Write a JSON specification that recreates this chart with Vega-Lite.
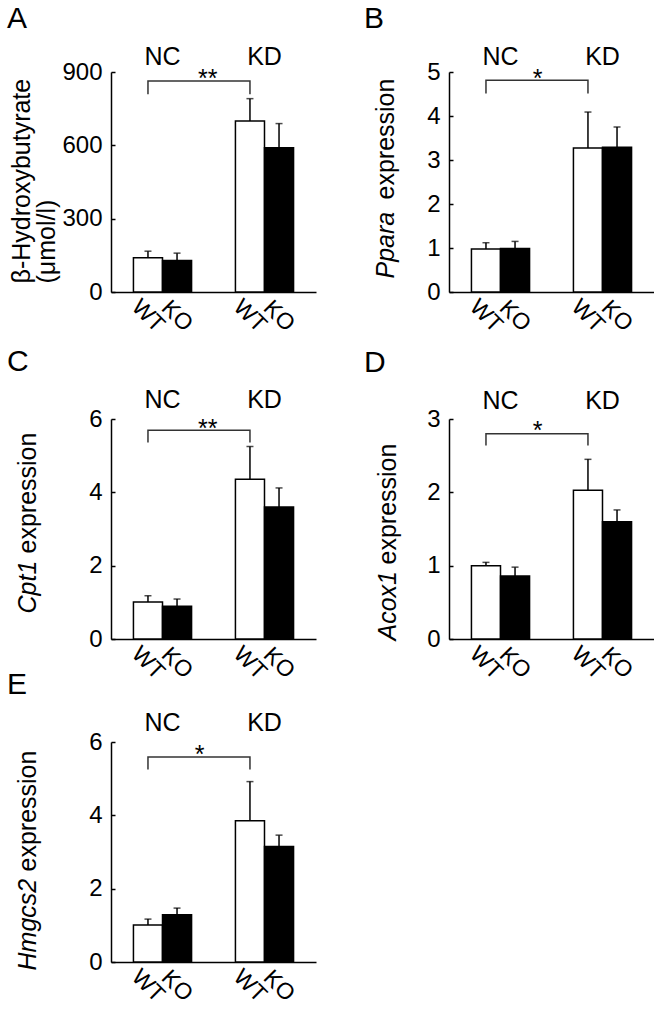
{
  "$schema": "https://vega.github.io/schema/vega-lite/v6.json",
  "padding": {"left": 7, "top": 3, "right": 0, "bottom": 0},
  "background": "white",
  "spacing": -16,
  "vconcat": [
    {
      "columns": 2,
      "spacing": {"row": 8, "column": 48},
      "concat": [
        {
          "title": {"text": "A", "dx": -104},
          "width": 205, "height": 220,
          "resolve": {"axis": {"y": "independent"}},
          "data": {"values": [
            {"g": "NC", "geno": "WT", "mean": 140, "top": 167},
            {"g": "NC", "geno": "KO", "mean": 129, "top": 159},
            {"g": "KD", "geno": "WT", "mean": 700, "top": 791},
            {"g": "KD", "geno": "KO", "mean": 590, "top": 689}
          ]},
          "layer": [
            {"mark": {"type": "rule", "color": "black", "strokeWidth": 1.5},
             "encoding": {
               "x": {"field": "g", "type": "nominal", "scale": {"domain": ["NC", "KD"], "paddingInner": 0.43, "paddingOuter": 0.22}, "axis": {"labels": false, "ticks": false, "title": null}},
               "xOffset": {"field": "geno", "type": "nominal", "scale": {"domain": ["WT", "KO"], "paddingInner": 0, "paddingOuter": 0}},
               "y": {"field": "mean", "type": "quantitative", "scale": {"domain": [0, 900], "nice": false},
                     "axis": {"orient": "left", "values": [0, 300, 600, 900], "title": ["β-Hydroxybutyrate", "(μmol/l)"], "titleX": -77, "titleY": 211}},
               "y2": {"field": "top"}}},
            {"mark": {"type": "tick", "orient": "horizontal", "color": "black", "size": 7, "thickness": 1.5},
             "encoding": {
               "x": {"field": "g", "type": "nominal"},
               "xOffset": {"field": "geno", "type": "nominal"},
               "y": {"field": "top", "type": "quantitative", "axis": null}}},
            {"mark": {"type": "bar", "stroke": "black", "strokeWidth": 1.5},
             "encoding": {
               "x": {"field": "g", "type": "nominal"},
               "xOffset": {"field": "geno", "type": "nominal"},
               "y": {"field": "mean", "type": "quantitative", "axis": null},
               "fill": {"field": "geno", "type": "nominal", "scale": {"domain": ["WT", "KO"], "range": ["white", "black"]}, "legend": null}}},
            {"mark": {"type": "text", "angle": 45, "align": "center", "baseline": "middle", "fontSize": 23},
             "encoding": {
               "x": {"field": "g", "type": "nominal"},
               "xOffset": {"field": "geno", "type": "nominal"},
               "y": {"datum": -98, "type": "quantitative", "axis": null},
               "text": {"field": "geno"}}},
            {"transform": [{"filter": "datum.geno === 'WT'"}],
             "mark": {"type": "text", "baseline": "alphabetic", "fontSize": 25},
             "encoding": {
               "x": {"field": "g", "type": "nominal"},
               "y": {"datum": 929, "type": "quantitative", "axis": null},
               "text": {"field": "g"}}},
            {"data": {"values": [
               {"g": "NC", "geno": "WT", "v": 809, "o": 1},
               {"g": "NC", "geno": "WT", "v": 863, "o": 2},
               {"g": "KD", "geno": "WT", "v": 863, "o": 3},
               {"g": "KD", "geno": "WT", "v": 809, "o": 4}]},
             "mark": {"type": "line", "color": "#333333", "strokeWidth": 1.5},
             "encoding": {
               "x": {"field": "g", "type": "nominal"},
               "xOffset": {"field": "geno", "type": "nominal"},
               "y": {"field": "v", "type": "quantitative", "axis": null},
               "order": {"field": "o", "type": "quantitative"}}},
            {"data": {"values": [{"s": "**", "v": 840}]},
             "mark": {"type": "text", "baseline": "alphabetic", "fontSize": 25},
             "encoding": {
               "x": {"datum": "NC", "type": "nominal", "bandPosition": 1.28},
               "y": {"field": "v", "type": "quantitative", "axis": null},
               "text": {"field": "s"}}}
          ]
        },
        {
          "title": {"text": "B", "dx": -85},
          "width": 205, "height": 220,
          "resolve": {"axis": {"y": "independent"}},
          "data": {"values": [
            {"g": "NC", "geno": "WT", "mean": 0.98, "top": 1.12},
            {"g": "NC", "geno": "KO", "mean": 0.99, "top": 1.15},
            {"g": "KD", "geno": "WT", "mean": 3.27, "top": 4.09},
            {"g": "KD", "geno": "KO", "mean": 3.29, "top": 3.75}
          ]},
          "layer": [
            {"mark": {"type": "rule", "color": "black", "strokeWidth": 1.5},
             "encoding": {
               "x": {"field": "g", "type": "nominal", "scale": {"domain": ["NC", "KD"], "paddingInner": 0.43, "paddingOuter": 0.22}, "axis": {"labels": false, "ticks": false, "title": null}},
               "xOffset": {"field": "geno", "type": "nominal", "scale": {"domain": ["WT", "KO"], "paddingInner": 0, "paddingOuter": 0}},
               "y": {"field": "mean", "type": "quantitative", "scale": {"domain": [0, 5], "nice": false},
                     "axis": {"orient": "left", "values": [0, 1, 2, 3, 4, 5], "title": "expression", "titleX": -51, "titleY": 127}},
               "y2": {"field": "top"}}},
            {"mark": {"type": "tick", "orient": "horizontal", "color": "black", "size": 7, "thickness": 1.5},
             "encoding": {
               "x": {"field": "g", "type": "nominal"},
               "xOffset": {"field": "geno", "type": "nominal"},
               "y": {"field": "top", "type": "quantitative",
                     "axis": {"orient": "left", "domain": false, "ticks": false, "labels": false, "title": "Ppara", "titleFontStyle": "italic", "titleX": -51, "titleY": 206}}}},
            {"mark": {"type": "bar", "stroke": "black", "strokeWidth": 1.5},
             "encoding": {
               "x": {"field": "g", "type": "nominal"},
               "xOffset": {"field": "geno", "type": "nominal"},
               "y": {"field": "mean", "type": "quantitative", "axis": null},
               "fill": {"field": "geno", "type": "nominal", "scale": {"domain": ["WT", "KO"], "range": ["white", "black"]}, "legend": null}}},
            {"mark": {"type": "text", "angle": 45, "align": "center", "baseline": "middle", "fontSize": 23},
             "encoding": {
               "x": {"field": "g", "type": "nominal"},
               "xOffset": {"field": "geno", "type": "nominal"},
               "y": {"datum": -0.545, "type": "quantitative", "axis": null},
               "text": {"field": "geno"}}},
            {"transform": [{"filter": "datum.geno === 'WT'"}],
             "mark": {"type": "text", "baseline": "alphabetic", "fontSize": 25},
             "encoding": {
               "x": {"field": "g", "type": "nominal"},
               "y": {"datum": 5.16, "type": "quantitative", "axis": null},
               "text": {"field": "g"}}},
            {"data": {"values": [
               {"g": "NC", "geno": "WT", "v": 4.51, "o": 1},
               {"g": "NC", "geno": "WT", "v": 4.81, "o": 2},
               {"g": "KD", "geno": "WT", "v": 4.81, "o": 3},
               {"g": "KD", "geno": "WT", "v": 4.51, "o": 4}]},
             "mark": {"type": "line", "color": "#333333", "strokeWidth": 1.5},
             "encoding": {
               "x": {"field": "g", "type": "nominal"},
               "xOffset": {"field": "geno", "type": "nominal"},
               "y": {"field": "v", "type": "quantitative", "axis": null},
               "order": {"field": "o", "type": "quantitative"}}},
            {"data": {"values": [{"s": "*", "v": 4.67}]},
             "mark": {"type": "text", "baseline": "alphabetic", "fontSize": 25},
             "encoding": {
               "x": {"datum": "NC", "type": "nominal", "bandPosition": 1.14},
               "y": {"field": "v", "type": "quantitative", "axis": null},
               "text": {"field": "s"}}}
          ]
        },
        {
          "title": {"text": "C", "dx": -104},
          "width": 205, "height": 220,
          "resolve": {"axis": {"y": "independent"}},
          "data": {"values": [
            {"g": "NC", "geno": "WT", "mean": 1.01, "top": 1.18},
            {"g": "NC", "geno": "KO", "mean": 0.89, "top": 1.09},
            {"g": "KD", "geno": "WT", "mean": 4.36, "top": 5.25},
            {"g": "KD", "geno": "KO", "mean": 3.6, "top": 4.12}
          ]},
          "layer": [
            {"mark": {"type": "rule", "color": "black", "strokeWidth": 1.5},
             "encoding": {
               "x": {"field": "g", "type": "nominal", "scale": {"domain": ["NC", "KD"], "paddingInner": 0.43, "paddingOuter": 0.22}, "axis": {"labels": false, "ticks": false, "title": null}},
               "xOffset": {"field": "geno", "type": "nominal", "scale": {"domain": ["WT", "KO"], "paddingInner": 0, "paddingOuter": 0}},
               "y": {"field": "mean", "type": "quantitative", "scale": {"domain": [0, 6], "nice": false},
                     "axis": {"orient": "left", "values": [0, 2, 4, 6], "title": "expression", "titleX": -71, "titleY": 134}},
               "y2": {"field": "top"}}},
            {"mark": {"type": "tick", "orient": "horizontal", "color": "black", "size": 7, "thickness": 1.5},
             "encoding": {
               "x": {"field": "g", "type": "nominal"},
               "xOffset": {"field": "geno", "type": "nominal"},
               "y": {"field": "top", "type": "quantitative",
                     "axis": {"orient": "left", "domain": false, "ticks": false, "labels": false, "title": "Cpt1", "titleFontStyle": "italic", "titleX": -71, "titleY": 194}}}},
            {"mark": {"type": "bar", "stroke": "black", "strokeWidth": 1.5},
             "encoding": {
               "x": {"field": "g", "type": "nominal"},
               "xOffset": {"field": "geno", "type": "nominal"},
               "y": {"field": "mean", "type": "quantitative", "axis": null},
               "fill": {"field": "geno", "type": "nominal", "scale": {"domain": ["WT", "KO"], "range": ["white", "black"]}, "legend": null}}},
            {"mark": {"type": "text", "angle": 45, "align": "center", "baseline": "middle", "fontSize": 23},
             "encoding": {
               "x": {"field": "g", "type": "nominal"},
               "xOffset": {"field": "geno", "type": "nominal"},
               "y": {"datum": -0.655, "type": "quantitative", "axis": null},
               "text": {"field": "geno"}}},
            {"transform": [{"filter": "datum.geno === 'WT'"}],
             "mark": {"type": "text", "baseline": "alphabetic", "fontSize": 25},
             "encoding": {
               "x": {"field": "g", "type": "nominal"},
               "y": {"datum": 6.3, "type": "quantitative", "axis": null},
               "text": {"field": "g"}}},
            {"data": {"values": [
               {"g": "NC", "geno": "WT", "v": 5.36, "o": 1},
               {"g": "NC", "geno": "WT", "v": 5.69, "o": 2},
               {"g": "KD", "geno": "WT", "v": 5.69, "o": 3},
               {"g": "KD", "geno": "WT", "v": 5.36, "o": 4}]},
             "mark": {"type": "line", "color": "#333333", "strokeWidth": 1.5},
             "encoding": {
               "x": {"field": "g", "type": "nominal"},
               "xOffset": {"field": "geno", "type": "nominal"},
               "y": {"field": "v", "type": "quantitative", "axis": null},
               "order": {"field": "o", "type": "quantitative"}}},
            {"data": {"values": [{"s": "**", "v": 5.52}]},
             "mark": {"type": "text", "baseline": "alphabetic", "fontSize": 25},
             "encoding": {
               "x": {"datum": "NC", "type": "nominal", "bandPosition": 1.28},
               "y": {"field": "v", "type": "quantitative", "axis": null},
               "text": {"field": "s"}}}
          ]
        },
        {
          "title": {"text": "D", "dx": -85},
          "width": 205, "height": 220,
          "resolve": {"axis": {"y": "independent"}},
          "data": {"values": [
            {"g": "NC", "geno": "WT", "mean": 1.0, "top": 1.045},
            {"g": "NC", "geno": "KO", "mean": 0.86, "top": 0.98},
            {"g": "KD", "geno": "WT", "mean": 2.03, "top": 2.45},
            {"g": "KD", "geno": "KO", "mean": 1.6, "top": 1.76}
          ]},
          "layer": [
            {"mark": {"type": "rule", "color": "black", "strokeWidth": 1.5},
             "encoding": {
               "x": {"field": "g", "type": "nominal", "scale": {"domain": ["NC", "KD"], "paddingInner": 0.43, "paddingOuter": 0.22}, "axis": {"labels": false, "ticks": false, "title": null}},
               "xOffset": {"field": "geno", "type": "nominal", "scale": {"domain": ["WT", "KO"], "paddingInner": 0, "paddingOuter": 0}},
               "y": {"field": "mean", "type": "quantitative", "scale": {"domain": [0, 3], "nice": false},
                     "axis": {"orient": "left", "values": [0, 1, 2, 3], "title": "expression", "titleX": -49, "titleY": 145}},
               "y2": {"field": "top"}}},
            {"mark": {"type": "tick", "orient": "horizontal", "color": "black", "size": 7, "thickness": 1.5},
             "encoding": {
               "x": {"field": "g", "type": "nominal"},
               "xOffset": {"field": "geno", "type": "nominal"},
               "y": {"field": "top", "type": "quantitative",
                     "axis": {"orient": "left", "domain": false, "ticks": false, "labels": false, "title": "Acox1", "titleFontStyle": "italic", "titleX": -49, "titleY": 221}}}},
            {"mark": {"type": "bar", "stroke": "black", "strokeWidth": 1.5},
             "encoding": {
               "x": {"field": "g", "type": "nominal"},
               "xOffset": {"field": "geno", "type": "nominal"},
               "y": {"field": "mean", "type": "quantitative", "axis": null},
               "fill": {"field": "geno", "type": "nominal", "scale": {"domain": ["WT", "KO"], "range": ["white", "black"]}, "legend": null}}},
            {"mark": {"type": "text", "angle": 45, "align": "center", "baseline": "middle", "fontSize": 23},
             "encoding": {
               "x": {"field": "g", "type": "nominal"},
               "xOffset": {"field": "geno", "type": "nominal"},
               "y": {"datum": -0.327, "type": "quantitative", "axis": null},
               "text": {"field": "geno"}}},
            {"transform": [{"filter": "datum.geno === 'WT'"}],
             "mark": {"type": "text", "baseline": "alphabetic", "fontSize": 25},
             "encoding": {
               "x": {"field": "g", "type": "nominal"},
               "y": {"datum": 3.14, "type": "quantitative", "axis": null},
               "text": {"field": "g"}}},
            {"data": {"values": [
               {"g": "NC", "geno": "WT", "v": 2.64, "o": 1},
               {"g": "NC", "geno": "WT", "v": 2.8, "o": 2},
               {"g": "KD", "geno": "WT", "v": 2.8, "o": 3},
               {"g": "KD", "geno": "WT", "v": 2.64, "o": 4}]},
             "mark": {"type": "line", "color": "#333333", "strokeWidth": 1.5},
             "encoding": {
               "x": {"field": "g", "type": "nominal"},
               "xOffset": {"field": "geno", "type": "nominal"},
               "y": {"field": "v", "type": "quantitative", "axis": null},
               "order": {"field": "o", "type": "quantitative"}}},
            {"data": {"values": [{"s": "*", "v": 2.73}]},
             "mark": {"type": "text", "baseline": "alphabetic", "fontSize": 25},
             "encoding": {
               "x": {"datum": "NC", "type": "nominal", "bandPosition": 1.14},
               "y": {"field": "v", "type": "quantitative", "axis": null},
               "text": {"field": "s"}}}
          ]
        }
      ]
    },
    {
      "title": {"text": "E", "dx": -104},
      "width": 205, "height": 220,
      "resolve": {"axis": {"y": "independent"}},
      "data": {"values": [
        {"g": "NC", "geno": "WT", "mean": 1.01, "top": 1.17},
        {"g": "NC", "geno": "KO", "mean": 1.29, "top": 1.47},
        {"g": "KD", "geno": "WT", "mean": 3.85, "top": 4.92},
        {"g": "KD", "geno": "KO", "mean": 3.15, "top": 3.46}
      ]},
      "layer": [
        {"mark": {"type": "rule", "color": "black", "strokeWidth": 1.5},
         "encoding": {
           "x": {"field": "g", "type": "nominal", "scale": {"domain": ["NC", "KD"], "paddingInner": 0.43, "paddingOuter": 0.22}, "axis": {"labels": false, "ticks": false, "title": null}},
           "xOffset": {"field": "geno", "type": "nominal", "scale": {"domain": ["WT", "KO"], "paddingInner": 0, "paddingOuter": 0}},
           "y": {"field": "mean", "type": "quantitative", "scale": {"domain": [0, 6], "nice": false},
                 "axis": {"orient": "left", "values": [0, 2, 4, 6], "title": "expression", "titleX": -71, "titleY": 129}},
           "y2": {"field": "top"}}},
        {"mark": {"type": "tick", "orient": "horizontal", "color": "black", "size": 7, "thickness": 1.5},
         "encoding": {
           "x": {"field": "g", "type": "nominal"},
           "xOffset": {"field": "geno", "type": "nominal"},
           "y": {"field": "top", "type": "quantitative",
                 "axis": {"orient": "left", "domain": false, "ticks": false, "labels": false, "title": "Hmgcs2", "titleFontStyle": "italic", "titleX": -71, "titleY": 228}}}},
        {"mark": {"type": "bar", "stroke": "black", "strokeWidth": 1.5},
         "encoding": {
           "x": {"field": "g", "type": "nominal"},
           "xOffset": {"field": "geno", "type": "nominal"},
           "y": {"field": "mean", "type": "quantitative", "axis": null},
           "fill": {"field": "geno", "type": "nominal", "scale": {"domain": ["WT", "KO"], "range": ["white", "black"]}, "legend": null}}},
        {"mark": {"type": "text", "angle": 45, "align": "center", "baseline": "middle", "fontSize": 23},
         "encoding": {
           "x": {"field": "g", "type": "nominal"},
           "xOffset": {"field": "geno", "type": "nominal"},
           "y": {"datum": -0.65, "type": "quantitative", "axis": null},
           "text": {"field": "geno"}}},
        {"transform": [{"filter": "datum.geno === 'WT'"}],
         "mark": {"type": "text", "baseline": "alphabetic", "fontSize": 25},
         "encoding": {
           "x": {"field": "g", "type": "nominal"},
           "y": {"datum": 6.3, "type": "quantitative", "axis": null},
           "text": {"field": "g"}}},
        {"data": {"values": [
           {"g": "NC", "geno": "WT", "v": 5.25, "o": 1},
           {"g": "NC", "geno": "WT", "v": 5.59, "o": 2},
           {"g": "KD", "geno": "WT", "v": 5.59, "o": 3},
           {"g": "KD", "geno": "WT", "v": 5.25, "o": 4}]},
         "mark": {"type": "line", "color": "#333333", "strokeWidth": 1.5},
         "encoding": {
           "x": {"field": "g", "type": "nominal"},
           "xOffset": {"field": "geno", "type": "nominal"},
           "y": {"field": "v", "type": "quantitative", "axis": null},
           "order": {"field": "o", "type": "quantitative"}}},
        {"data": {"values": [{"s": "*", "v": 5.44}]},
         "mark": {"type": "text", "baseline": "alphabetic", "fontSize": 25},
         "encoding": {
           "x": {"datum": "NC", "type": "nominal", "bandPosition": 1.14},
           "y": {"field": "v", "type": "quantitative", "axis": null},
           "text": {"field": "s"}}}
      ]
    }
  ],
  "config": {
    "font": "Liberation Sans",
    "view": {"stroke": null},
    "axis": {"grid": false, "domainColor": "black", "domainWidth": 1.5, "tickColor": "black", "tickWidth": 1.5,
             "labelColor": "black", "titleColor": "black", "labelFont": "Liberation Sans", "titleFont": "Liberation Sans",
             "titleFontWeight": "normal", "labelFontSize": 24, "titleFontSize": 25},
    "axisY": {"tickSize": -4, "labelPadding": 13, "labelFlush": false, "titleAngle": -90, "titleAlign": "left",
              "titleBaseline": "bottom", "titleLineHeight": 25},
    "title": {"anchor": "start", "frame": "group", "fontSize": 30, "fontWeight": "normal", "font": "Liberation Sans",
              "baseline": "alphabetic", "offset": 11, "color": "black"},
    "text": {"font": "Liberation Sans", "color": "black"}
  }
}
